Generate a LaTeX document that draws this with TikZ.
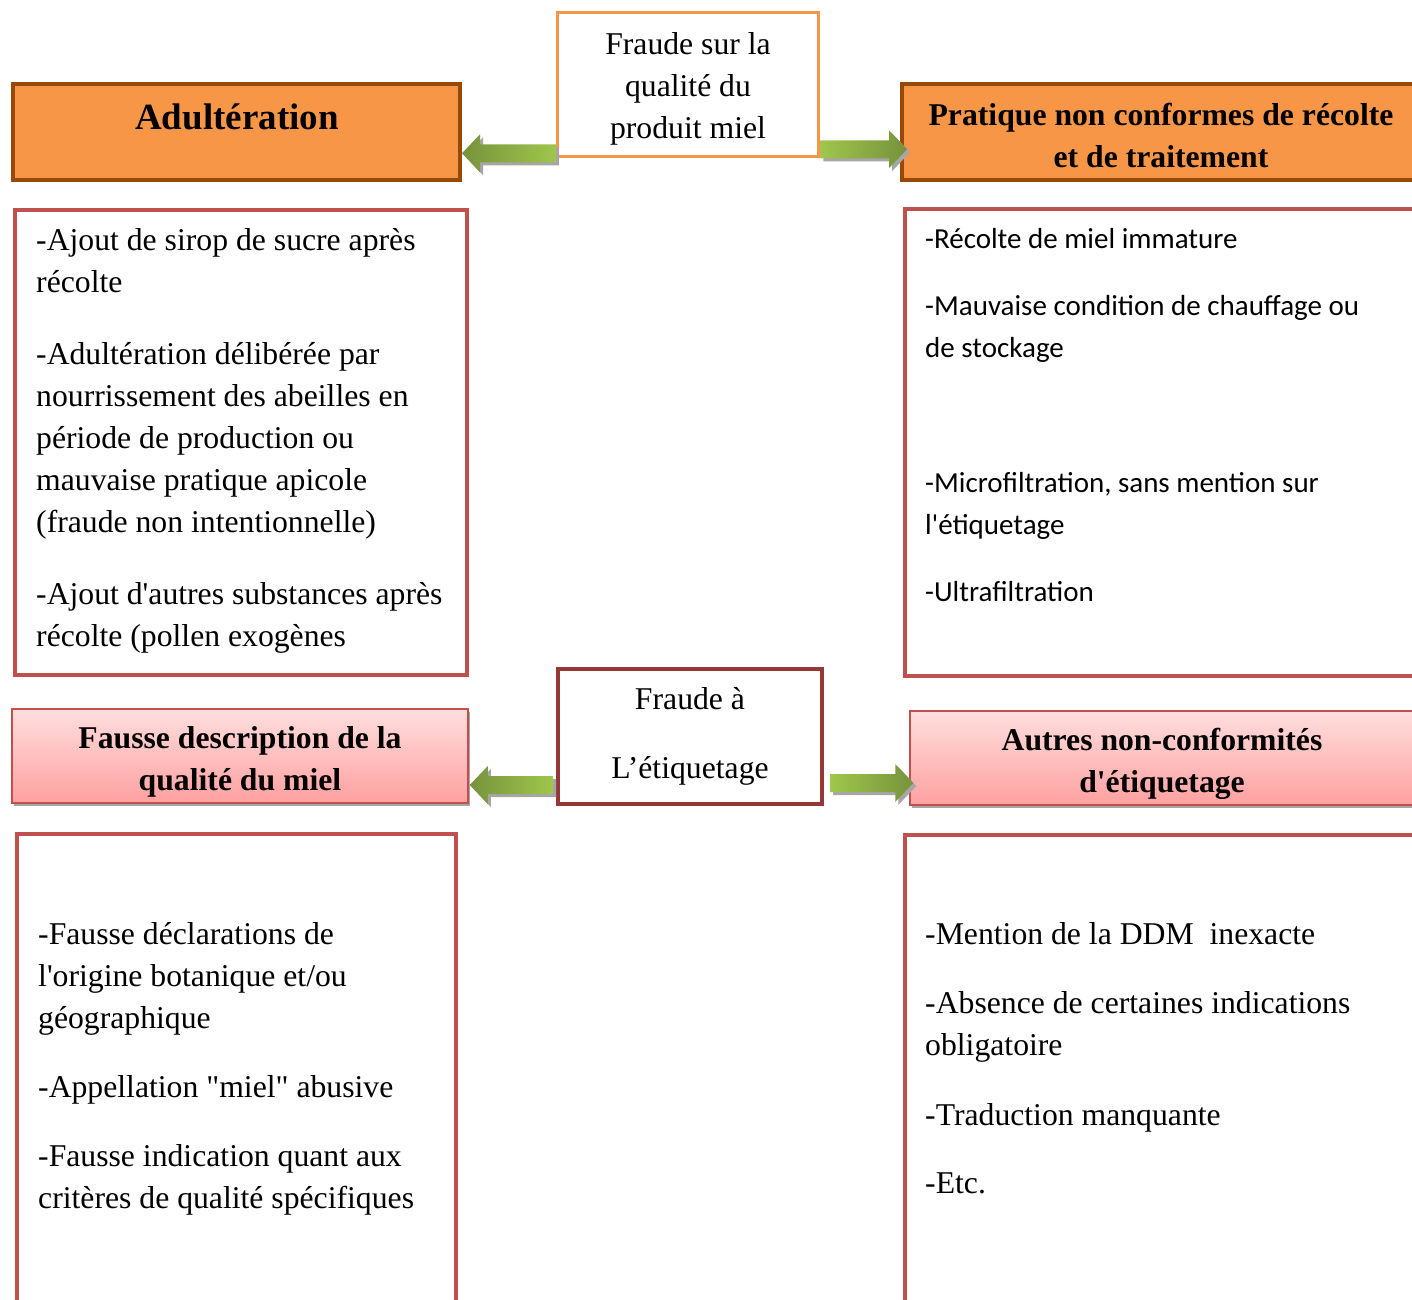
\documentclass[tikz,border=0pt]{standalone}
\usepackage{fontspec}
\newfontfamily\tnr{Liberation Serif}
\newfontfamily\calib{Carlito}
\usetikzlibrary{calc,shadows}

\definecolor{orangefill}{HTML}{F79646}
\definecolor{brownline}{HTML}{984807}
\definecolor{redline}{HTML}{C0504D}
\definecolor{darkred}{HTML}{953735}
\definecolor{pinktop}{HTML}{FFDEDE}
\definecolor{pinkbot}{HTML}{FFA0A0}
\definecolor{greendark}{HTML}{76923C}
\definecolor{greenlight}{HTML}{A0C64B}
\definecolor{shadowgray}{HTML}{A6A6A6}

% block arrow from tail #1 to tip #2, shading options #3
\newcommand{\greenarrow}[3]{%
  \fill[shadowgray] let \p1=(#1), \p2=(#2), \n1={18pt*sign(\x2-\x1)} in
    (\x1+3pt,\y1+6pt) -- (\x2-\n1+3pt,\y1+6pt) -- (\x2-\n1+3pt,\y1+16pt)
    -- (\x2+3pt,\y1-3pt) -- (\x2-\n1+3pt,\y1-22pt) -- (\x2-\n1+3pt,\y1-12pt)
    -- (\x1+3pt,\y1-12pt) -- cycle;
  \shade[#3] let \p1=(#1), \p2=(#2), \n1={18pt*sign(\x2-\x1)} in
    (\x1,\y1+9pt) -- (\x2-\n1,\y1+9pt) -- (\x2-\n1,\y1+19pt)
    -- (\x2,\y1) -- (\x2-\n1,\y1-19pt) -- (\x2-\n1,\y1-9pt)
    -- (\x1,\y1-9pt) -- cycle;
}

\begin{document}
\begin{tikzpicture}[x=1pt,y=-1pt,
    orangehead/.style={draw=brownline, line width=4pt, fill=orangefill, inner sep=0pt},
    pinkhead/.style={draw=redline, line width=1.5pt, top color=pinktop,
      bottom color=pinkbot, inner sep=0pt,
      drop shadow={shadow xshift=2pt, shadow yshift=-3pt, opacity=1, fill=shadowgray}},
    listbox/.style={draw=redline, line width=4pt, fill=white, inner sep=0pt},
    headtext/.style={font=\tnr\bfseries\fontsize{31.7}{42}\selectfont, align=center,
      anchor=base, inner sep=0pt},
    midtext/.style={font=\tnr\fontsize{31.7}{42}\selectfont, align=center,
      anchor=base, inner sep=0pt},
    bodytext/.style={font=\tnr\fontsize{31.7}{42}\selectfont, align=left,
      anchor=base west, inner sep=0pt},
    sanstext/.style={font=\calib\fontsize{29}{42}\selectfont, align=left,
      anchor=base west, inner sep=0pt}]
  \useasboundingbox (0,0) rectangle (1412,1299);
  \clip (0,0) rectangle (1412,1299);

  % top row (text nodes sit on the baseline of their last line)
  \node[draw=orangefill, line width=3.5pt, inner sep=0pt, minimum width=261,
    minimum height=144] (fraude1) at (688,84.5) {};
  \node[orangehead, minimum width=447, minimum height=96] (adult) at (236.5,132) {};
  \node[orangehead, minimum width=518, minimum height=96] (prat) at (1161,132) {};
  \node[midtext] (t-fraude1) at (688,138) {Fraude sur la\\qualité du\\produit miel};
  \node[headtext, font=\tnr\bfseries\fontsize{37}{42}\selectfont] (t-adult) at (237,129) {Adultération};
  \node[headtext] (t-prat) at (1161,167) {Pratique non conformes de récolte\\et de traitement};

  \coordinate (a1) at ($(fraude1.south west)+(0,-5)$);
  \coordinate (a2) at ($(fraude1.south east)+(0,-9)$);
  \greenarrow{a1}{adult.east |- a1}{left color=greendark, right color=greenlight}
  \greenarrow{a2}{$(prat.west |- a2)+(7,0)$}{left color=greenlight, right color=greendark}

  % list boxes, top
  \node[listbox, minimum width=452, minimum height=465] (list1) at (241,442.5) {};
  \node[listbox, minimum width=515, minimum height=467] (list2) at (1162.5,442.5) {};
  \node[bodytext] (t-list1) at (36,646) {-Ajout de sirop de sucre après\\récolte\\[30pt]
    -Adultération délibérée par\\nourrissement des abeilles en\\période de production ou\\
    mauvaise pratique apicole\\(fraude non intentionnelle)\\[30pt]
    -Ajout d'autres substances après\\récolte (pollen exogènes};
  \node[sanstext] (t-list2) at (925,601) {-Récolte de miel immature\\[25pt]
    -Mauvaise condition de chauffage ou\\de stockage\\[93pt]
    -Microfiltration, sans mention sur\\l'étiquetage\\[25pt]
    -Ultrafiltration};

  % bottom row
  \node[draw=darkred, line width=4pt, inner sep=0pt, minimum width=264,
    minimum height=135] (fraude2) at (690,736.5) {};
  \node[pinkhead, minimum width=456, minimum height=94] (fausse) at (240,756) {};
  \node[pinkhead, minimum width=510, minimum height=94] (autres) at (1165,758) {};
  \node[midtext] (t-fraude2) at (690,778) {Fraude à\\[27pt]L’étiquetage};
  \node[headtext] (t-fausse) at (240,790) {Fausse description de la\\qualité du miel};
  \node[headtext] (t-autres) at (1162,792) {Autres non-conformités\\d'étiquetage};

  \coordinate (a3) at ($(fraude2.south west)+(-3,-21)$);
  \coordinate (a4) at ($(fraude2.south east)+(6,-23)$);
  \greenarrow{a3}{$(fausse.east |- a3)+(1,0)$}{left color=greendark, right color=greenlight}
  \greenarrow{a4}{$(autres.west |- a4)+(4,0)$}{left color=greenlight, right color=greendark}

  % list boxes, bottom
  \node[listbox, minimum width=439, minimum height=476] (list3) at (236.5,1072) {};
  \node[listbox, minimum width=515, minimum height=475] (list4) at (1162.5,1072.5) {};
  \node[bodytext] (t-list3) at (38,1208) {-Fausse déclarations de\\l'origine botanique et/ou\\
    géographique\\[27pt]-Appellation "miel" abusive\\[27pt]
    -Fausse indication quant aux\\critères de qualité spécifiques};
  \node[bodytext] (t-list4) at (925,1193) {-Mention de la DDM~ inexacte\\[27pt]
    -Absence de certaines indications\\obligatoire\\[28pt]
    -Traduction manquante\\[26pt]-Etc.};
\end{tikzpicture}
\end{document}
